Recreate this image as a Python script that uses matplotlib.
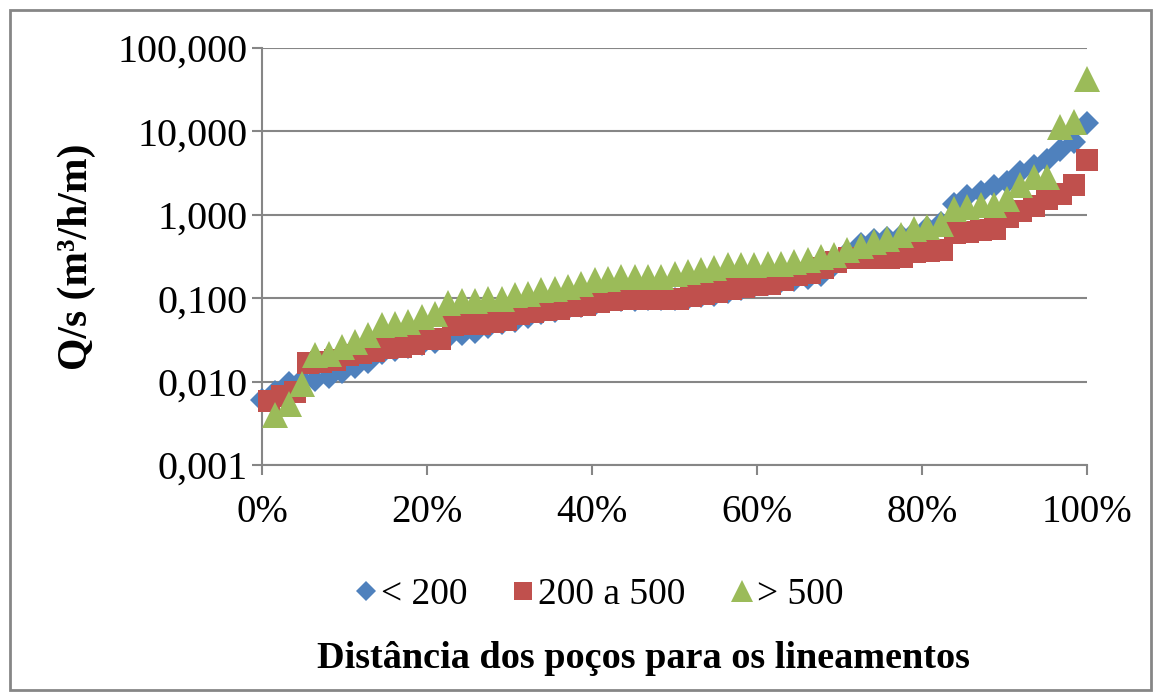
import numpy as np
import matplotlib
matplotlib.use("Agg")
import matplotlib.pyplot as plt
from matplotlib.patches import Rectangle
from matplotlib.ticker import FixedLocator, FixedFormatter, NullLocator

plt.rcParams['font.family'] = ['Liberation Serif', 'DejaVu Serif']

series_names = ["< 200", "200 a 500", "> 500"]
colors = ["#4F81BD", "#C0504D", "#9BBB59"]

# Q/s values (m3/h/m), sorted, for each distance class
q_lt200 = [0.006, 0.0075, 0.0095, 0.0105, 0.0105, 0.0115, 0.013, 0.015, 0.017, 0.022,
           0.024, 0.026, 0.028, 0.030, 0.034, 0.037, 0.039, 0.045, 0.050, 0.054,
           0.060, 0.066, 0.070, 0.076, 0.080, 0.086, 0.092, 0.095, 0.096, 0.097,
           0.097, 0.098, 0.100, 0.105, 0.110, 0.120, 0.130, 0.140, 0.150, 0.160,
           0.165, 0.175, 0.19, 0.25, 0.35, 0.45, 0.50, 0.52, 0.55, 0.60,
           0.70, 0.80, 1.35, 1.7, 1.9, 2.2, 2.5, 3.3, 3.8, 4.5,
           6.0, 7.5, 12.5]
q_200_500 = [0.0058, 0.0068, 0.0075, 0.0165, 0.017, 0.018, 0.021, 0.022, 0.023, 0.025,
             0.026, 0.028, 0.032, 0.032, 0.048, 0.049, 0.049, 0.052, 0.055, 0.065,
             0.068, 0.072, 0.074, 0.081, 0.083, 0.090, 0.095, 0.097, 0.098, 0.098,
             0.098, 0.098, 0.107, 0.113, 0.12, 0.13, 0.137, 0.145, 0.15, 0.166,
             0.19, 0.20, 0.23, 0.27, 0.30, 0.30, 0.30, 0.30, 0.31, 0.36,
             0.37, 0.38, 0.61, 0.625, 0.66, 0.68, 0.95, 1.12, 1.28, 1.56,
             1.79, 2.3, 4.6]
q_gt500 = [0.0040, 0.0054, 0.0094, 0.021, 0.0215, 0.026, 0.030, 0.036, 0.048, 0.049,
           0.052, 0.060, 0.065, 0.087, 0.092, 0.093, 0.098, 0.099, 0.11, 0.113,
           0.126, 0.13, 0.137, 0.149, 0.166, 0.17, 0.18, 0.18, 0.18, 0.18,
           0.196, 0.207, 0.219, 0.231, 0.25, 0.25, 0.25, 0.258, 0.258, 0.272,
           0.288, 0.313, 0.331, 0.38, 0.42, 0.474, 0.515, 0.57, 0.68, 0.72,
           0.78, 1.18, 1.25, 1.32, 1.32, 1.56, 2.29, 2.86, 2.86, 11.4,
           13.1, 42.8]

y_ticks = [0.001, 0.01, 0.1, 1, 10, 100]
y_tick_labels = ["0,001", "0,010", "0,100", "1,000", "10,000", "100,000"]
x_ticks = [0, 0.2, 0.4, 0.6, 0.8, 1.0]
x_tick_labels = ["0%", "20%", "40%", "60%", "80%", "100%"]

ylabel = "Q/s (m³/h/m)"
xlabel = "Distância dos poços para os lineamentos"

W, H = 1161, 700
fig = plt.figure(figsize=(W / 100, H / 100), dpi=100)
ax = fig.add_axes([262 / W, 1 - 465 / H, (1087 - 262) / W, (465 - 48) / H])

# cumulative rank positions
n0 = len(q_lt200)
x0 = np.arange(n0) / (n0 - 1)
n1 = len(q_200_500)
x1 = np.linspace(0.008, 1.0, n1)
n2 = len(q_gt500)
x2 = np.arange(1, n2 + 1) / n2

ax.plot(x0, q_lt200, linestyle='none', marker='D', ms=12.5, color=colors[0],
        mew=0, label=series_names[0], clip_on=False, zorder=3)
ax.plot(x1, q_200_500, linestyle='none', marker='s', ms=15.5, color=colors[1],
        mew=0, label=series_names[1], clip_on=False, zorder=4)
ax.plot(x2, q_gt500, linestyle='none', marker='^', ms=19, color=colors[2],
        mew=0, label=series_names[2], clip_on=False, zorder=5)

ax.set_yscale('log')
ax.set_ylim(0.001, 100)
ax.set_xlim(0, 1)
ax.yaxis.set_major_locator(FixedLocator(y_ticks))
ax.yaxis.set_major_formatter(FixedFormatter(y_tick_labels))
ax.yaxis.set_minor_locator(NullLocator())
ax.xaxis.set_major_locator(FixedLocator(x_ticks))
ax.xaxis.set_major_formatter(FixedFormatter(x_tick_labels))

grid_c = "#868686"
ax.grid(axis='y', color=grid_c, linewidth=1.5, zorder=1)
ax.set_axisbelow(True)
for s in ['top', 'right']:
    ax.spines[s].set_visible(False)
for s in ['left', 'bottom']:
    ax.spines[s].set_color(grid_c)
    ax.spines[s].set_linewidth(1.5)
ax.tick_params(axis='both', which='major', color=grid_c,
               width=1.5, length=7, direction='out')
ax.tick_params(axis='y', pad=3, labelsize=29)
ax.tick_params(axis='x', pad=14, labelsize=28)

fig.text(77 / W, 1 - 257 / H, ylabel, rotation=90, fontsize=30,
         fontweight='bold', ha='center', va='center')
fig.text(643 / W, 1 - 658 / H, xlabel, fontsize=27.5, fontweight='bold',
         ha='center', va='center')

leg = fig.legend(loc='center', bbox_to_anchor=(597 / W, 1 - 595 / H), ncol=3,
                 frameon=False, fontsize=27, handletextpad=0.0,
                 columnspacing=1.1, handlelength=0.8, markerscale=0.85)

fig.patches.append(Rectangle((10 / W, 10 / H), (1151 - 10) / W, (690 - 10) / H,
                             transform=fig.transFigure, fill=False,
                             edgecolor=grid_c, linewidth=2))

fig.savefig("out.png", dpi=100)
